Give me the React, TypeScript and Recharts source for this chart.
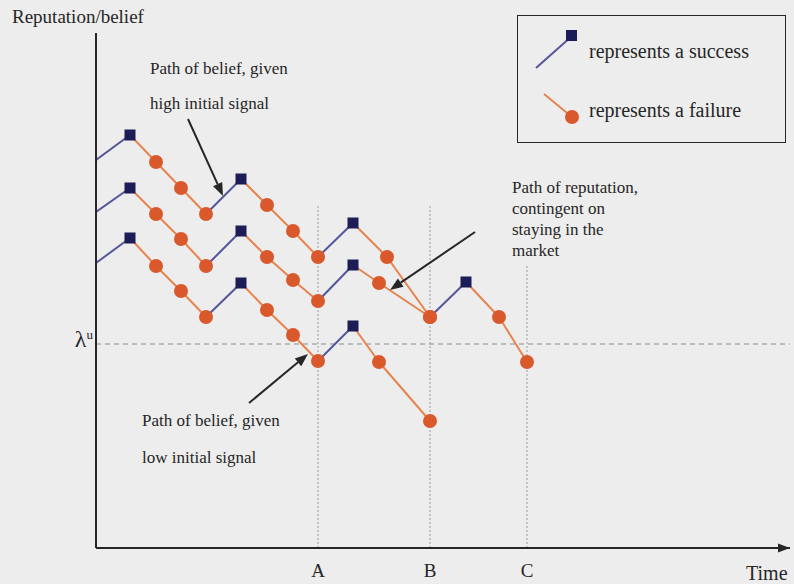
import React from "react";
import {
  ComposedChart,
  Line,
  Scatter,
  XAxis,
  YAxis,
  ReferenceLine,
  ReferenceDot,
  Legend,
} from "recharts";

const FONT = '"Liberation Serif", "Times New Roman", serif';
const INK = "#262626";
const BLUE_LINE = "#55559b";
const ORANGE_LINE = "#e6844f";
const SQUARE = "#1c1c56";
const CIRCLE = "#d9592c";

// time of the events A, B, C and the exit threshold λ^u
const markTimes = [222, 334, 431];
const markNames = ["A", "B", "C"];
const markTops = [343, 343, 282];
const lambdaU = 204;

// belief paths ("" = start, "S" = success, "F" = failure)
const highTime = [0, 34, 60, 85, 110, 145, 171, 197, 222, 257, 291, 334, 370, 403, 431];
const highBelief = [388, 413, 386, 360, 334, 369, 343, 317, 291, 325, 291, 231, 266, 231, 186];
const highOutcome = ["", "S", "F", "F", "F", "S", "F", "F", "F", "S", "F", "F", "S", "F", "F"];

const midTime = [0, 34, 60, 85, 110, 145, 171, 197, 222, 257, 283, 334];
const midBelief = [336, 360, 334, 309, 282, 317, 291, 268, 247, 283, 265, 231];
const midOutcome = ["", "S", "F", "F", "F", "S", "F", "F", "F", "S", "F", "F"];

const lowTime = [0, 34, 60, 85, 110, 145, 171, 197, 222, 257, 283, 334];
const lowBelief = [285, 310, 282, 257, 231, 265, 238, 213, 187, 222, 186, 127];
const lowOutcome = ["", "S", "F", "F", "F", "S", "F", "F", "F", "S", "F", "F"];

// annotation arrows: [time, belief] tail -> head
const arrows = [
  { from: [92, 429], to: [127, 352] },
  { from: [379, 316], to: [294, 258] },
  { from: [153, 145], to: [212, 194] },
];

const notes = [
  { t: 54, v: 474, gap: 35, lines: ["Path of belief, given", "high initial signal"] },
  { t: 46, v: 122, gap: 37, lines: ["Path of belief, given", "low initial signal"] },
  {
    t: 416,
    v: 355,
    gap: 21,
    lines: ["Path of reputation,", "contingent on", "staying in the", "market"],
  },
];

type Pt = { t: number; v: number; kind: string };

const toPts = (ts: number[], vs: number[], ks: string[]): Pt[] =>
  ts.map((t, i) => ({ t, v: vs[i], kind: ks[i] }));

const paths = [
  toPts(highTime, highBelief, highOutcome),
  toPts(midTime, midBelief, midOutcome),
  toPts(lowTime, lowBelief, lowOutcome),
];

const segments = paths.flatMap((p) =>
  p.slice(1).map((pt, i) => ({
    color: pt.kind === "S" ? BLUE_LINE : ORANGE_LINE,
    data: [p[i], pt],
  }))
);
const successes = paths.flat().filter((p) => p.kind === "S");
const failures = paths.flat().filter((p) => p.kind === "F");

const arrowShape = (width: number, len: number, half: number) => (props: any) => {
  const { x1, y1, x2, y2 } = props;
  const a = Math.atan2(y2 - y1, x2 - x1);
  const bx = x2 - len * Math.cos(a);
  const by = y2 - len * Math.sin(a);
  const px = -Math.sin(a) * half;
  const py = Math.cos(a) * half;
  return (
    <g>
      <line x1={x1} y1={y1} x2={bx} y2={by} stroke={INK} strokeWidth={width} />
      <polygon
        points={`${x2},${y2} ${bx + px},${by + py} ${bx - px},${by - py}`}
        fill={INK}
      />
    </g>
  );
};

const square = (p: any) => (
  <rect x={p.cx - 5.5} y={p.cy - 5.5} width={11} height={11} fill={SQUARE} />
);
const circle = (p: any) => <circle cx={p.cx} cy={p.cy} r={7} fill={CIRCLE} />;

function LegendBox() {
  return (
    <div
      style={{
        position: "relative",
        width: 269,
        height: 128,
        border: `1.5px solid ${INK}`,
        boxSizing: "border-box",
        fontFamily: FONT,
        fontSize: 20,
        color: INK,
      }}
    >
      <svg width={70} height={128} style={{ position: "absolute", left: 0, top: 0 }}>
        <line x1={18} y1={52} x2={54} y2={20} stroke={BLUE_LINE} strokeWidth={2} />
        <rect x={48} y={14} width={11} height={11} fill={SQUARE} />
        <line x1={26} y1={78} x2={54} y2={101} stroke={ORANGE_LINE} strokeWidth={2} />
        <circle cx={54} cy={101} r={7} fill={CIRCLE} />
      </svg>
      <div style={{ position: "absolute", left: 71, top: 24 }}>represents a success</div>
      <div style={{ position: "absolute", left: 71, top: 83 }}>represents a failure</div>
    </div>
  );
}

export default function App() {
  return (
    <div>
      <style>{"body{margin:0;background:#ededed}"}</style>
      <ComposedChart
        width={794}
        height={584}
        margin={{ top: 33, right: 4, bottom: 0, left: 36 }}
        style={{ fontFamily: FONT }}
      >
        <XAxis
          type="number"
          dataKey="t"
          domain={[0, 694]}
          allowDataOverflow
          ticks={markTimes}
          tickFormatter={(v: number) => markNames[markTimes.indexOf(v)]}
          tickLine={false}
          tickSize={0}
          tickMargin={16}
          height={36}
          axisLine={{ stroke: INK, strokeWidth: 2 }}
          tick={{ fill: INK, fontSize: 19, fontFamily: FONT }}
          label={{
            content: (p: any) => (
              <text
                x={p.viewBox.x + p.viewBox.width - 44}
                y={p.viewBox.y + 32}
                fontSize={20}
                fontFamily={FONT}
                fill={INK}
              >
                Time
              </text>
            ),
          }}
        />
        <YAxis
          type="number"
          dataKey="v"
          domain={[0, 515]}
          allowDataOverflow
          width={60}
          tick={false}
          tickLine={false}
          axisLine={{ stroke: INK, strokeWidth: 2 }}
          label={{
            content: (p: any) => (
              <text
                x={p.viewBox.x + p.viewBox.width - 84}
                y={p.viewBox.y - 10}
                fontSize={19}
                fontFamily={FONT}
                fill={INK}
              >
                Reputation/belief
              </text>
            ),
          }}
        />
        <Legend
          layout="vertical"
          align="center"
          verticalAlign="middle"
          wrapperStyle={{ top: 15, left: 517, width: 269 }}
          content={() => <LegendBox />}
        />

        <ReferenceLine
          y={lambdaU}
          stroke="#8a8a8a"
          strokeDasharray="5 4"
          label={{
            content: (p: any) => (
              <text
                x={p.viewBox.x - 3}
                y={p.viewBox.y + 3}
                textAnchor="end"
                fontFamily={FONT}
                fill={INK}
              >
                <tspan fontSize={24}>λ</tspan>
                <tspan fontSize={13} dy={-8}>
                  u
                </tspan>
              </text>
            ),
          }}
        />
        {markTimes.map((t, i) => (
          <ReferenceLine
            key={`mark-${i}`}
            segment={[
              { x: t, y: 0 },
              { x: t, y: markTops[i] },
            ]}
            stroke="#9a9a9a"
            strokeDasharray="2 2"
          />
        ))}

        {segments.map((s, i) => (
          <Line
            key={`seg-${i}`}
            data={s.data}
            dataKey="v"
            type="linear"
            stroke={s.color}
            strokeWidth={2}
            dot={false}
            activeDot={false}
            isAnimationActive={false}
          />
        ))}
        <Scatter data={failures} dataKey="v" shape={circle} isAnimationActive={false} />
        <Scatter data={successes} dataKey="v" shape={square} isAnimationActive={false} />

        {arrows.map((a, i) => (
          <ReferenceLine
            key={`arrow-${i}`}
            segment={[
              { x: a.from[0], y: a.from[1] },
              { x: a.to[0], y: a.to[1] },
            ]}
            shape={arrowShape(2, 13, 5)}
          />
        ))}
        <ReferenceLine
          segment={[
            { x: 670, y: 0 },
            { x: 694, y: 0 },
          ]}
          shape={arrowShape(2, 12, 4.5)}
        />

        {notes.map((n, i) => (
          <ReferenceDot
            key={`note-${i}`}
            x={n.t}
            y={n.v}
            r={0}
            shape={(p: any) => (
              <text x={p.cx} y={p.cy} fontSize={17} fontFamily={FONT} fill={INK}>
                {n.lines.map((l, j) => (
                  <tspan key={j} x={p.cx} dy={j ? n.gap : 0}>
                    {l}
                  </tspan>
                ))}
              </text>
            )}
          />
        ))}
      </ComposedChart>
    </div>
  );
}
